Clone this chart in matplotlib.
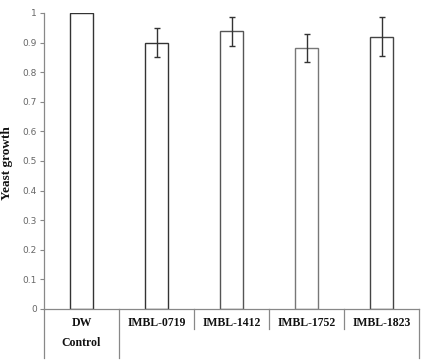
import matplotlib
matplotlib.use("Agg")
import matplotlib.pyplot as plt
import matplotlib.transforms as mtransforms

categories = ["DW", "IMBL-0719", "IMBL-1412", "IMBL-1752", "IMBL-1823"]
values = [1.0, 0.90, 0.938, 0.883, 0.92]
errors = [0.0, 0.05, 0.048, 0.047, 0.065]
yticks = [0, 0.1, 0.2, 0.3, 0.4, 0.5, 0.6, 0.7, 0.8, 0.9, 1.0]
ytick_labels = ["0", "0.1", "0.2", "0.3", "0.4", "0.5", "0.6", "0.7", "0.8", "0.9", "1"]
sub_label = "Control"

W, H = 421, 362
fig = plt.figure(figsize=(W / 100, H / 100), dpi=100)
ax = fig.add_axes([44 / W, (H - 309) / H, 375 / W, 296 / H])

x = list(range(len(categories)))
edgecols = ["#333333", "#333333", "#555555", "#777777", "#444444"]
ax.bar(x, values, width=0.31, color="white", edgecolor=edgecols, linewidth=1.0, zorder=2)
ex = x[1:]
ax.errorbar(ex, values[1:], yerr=errors[1:], fmt="none", ecolor="#333333",
            elinewidth=1.0, capsize=2.2, capthick=1.0, zorder=3)

ax.set_xlim(-0.5, len(categories) - 0.5)
ax.set_ylim(0, 1)
ax.set_yticks(yticks)
ax.set_yticklabels(ytick_labels, fontsize=6.5, color="#666666", family="DejaVu Sans")
ax.tick_params(axis="y", direction="out", length=3, width=0.8, color="#888888", pad=2)
ax.set_xticks([])
for s in ["top", "right"]:
    ax.spines[s].set_visible(False)
ax.spines["left"].set_color("#888888")
ax.spines["bottom"].set_color("#888888")
ax.spines["left"].set_linewidth(0.9)
ax.spines["bottom"].set_linewidth(0.9)

trans = mtransforms.blended_transform_factory(ax.transData, ax.transAxes)
long_y = -49 / 296
short_y = -20 / 296
for xb in [-0.5, 0.5, len(categories) - 0.5]:
    ax.plot([xb, xb], [0, long_y], transform=trans, color="#888888", lw=0.9, clip_on=False)
for xb in [1.5, 2.5, 3.5]:
    ax.plot([xb, xb], [0, short_y], transform=trans, color="#888888", lw=0.9, clip_on=False)

for xi, cat in zip(x, categories):
    ax.text(xi, -14 / 296, cat, transform=trans, ha="center", va="center",
            fontsize=8.5, fontweight="bold", family="Liberation Serif", color="#111111")
ax.text(0, -34 / 296, sub_label, transform=trans, ha="center", va="center",
        fontsize=8.5, fontweight="bold", family="Liberation Serif", color="#111111")

fig.text(7 / W, 1 - 163 / H, "Yeast growth", rotation=90, ha="center", va="center",
         fontsize=9.5, fontweight="bold", family="Liberation Serif", color="#111111")

fig.savefig("out.png", dpi=100)
